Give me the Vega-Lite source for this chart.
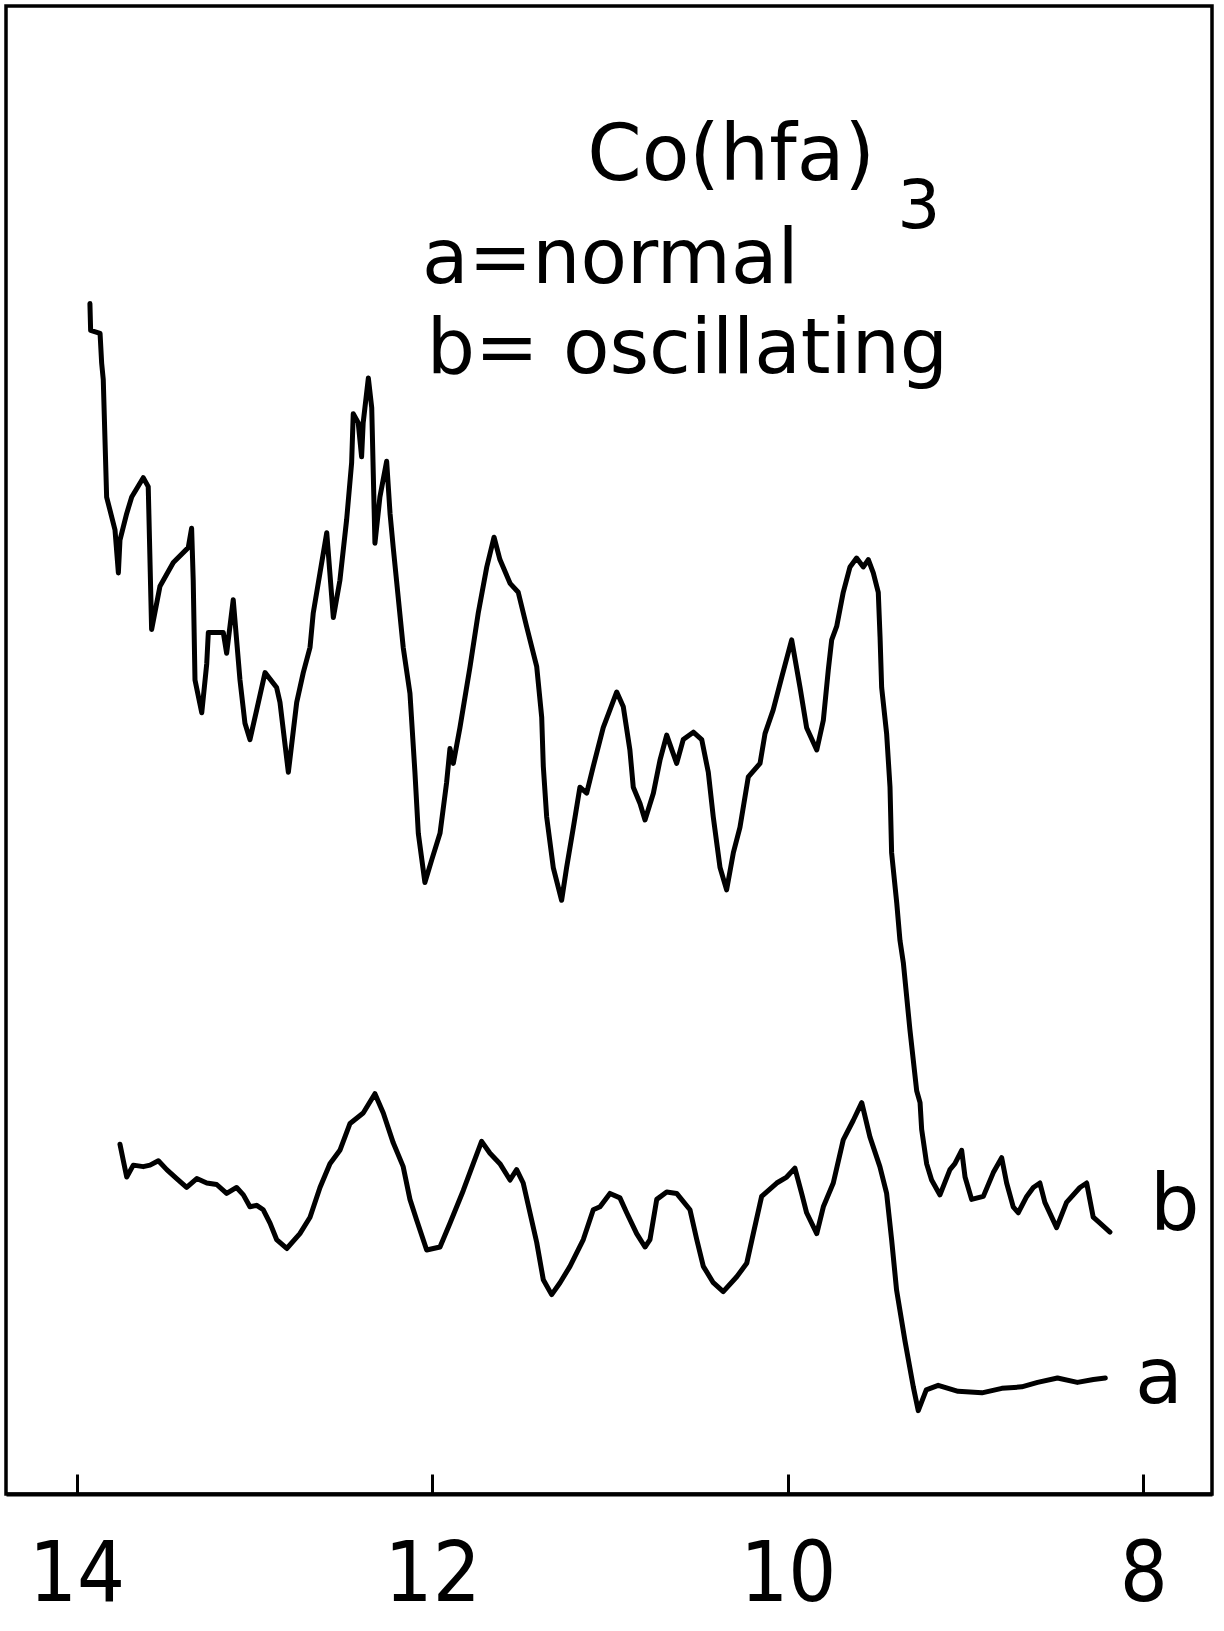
{
  "$schema": "https://vega.github.io/schema/vega-lite/v6.json",
  "width": 1206,
  "height": 1488,
  "padding": {"left": 6, "top": 6, "right": 6, "bottom": 6},
  "background": "white",
  "config": {
    "view": {"stroke": "black", "strokeWidth": 3.5},
    "font": "DejaVu Sans"
  },
  "datasets": {
    "traces": [
      {"trace": "b", "x": 13.925, "y": 80.0},
      {"trace": "b", "x": 13.921, "y": 78.2},
      {"trace": "b", "x": 13.868, "y": 78.0},
      {"trace": "b", "x": 13.859, "y": 76.0},
      {"trace": "b", "x": 13.850, "y": 74.9},
      {"trace": "b", "x": 13.831, "y": 67.0},
      {"trace": "b", "x": 13.784, "y": 64.8},
      {"trace": "b", "x": 13.765, "y": 61.9},
      {"trace": "b", "x": 13.756, "y": 64.1},
      {"trace": "b", "x": 13.718, "y": 65.9},
      {"trace": "b", "x": 13.690, "y": 67.0},
      {"trace": "b", "x": 13.625, "y": 68.3},
      {"trace": "b", "x": 13.597, "y": 67.7},
      {"trace": "b", "x": 13.578, "y": 58.1},
      {"trace": "b", "x": 13.531, "y": 61.0},
      {"trace": "b", "x": 13.456, "y": 62.6},
      {"trace": "b", "x": 13.372, "y": 63.6},
      {"trace": "b", "x": 13.353, "y": 64.9},
      {"trace": "b", "x": 13.344, "y": 61.4},
      {"trace": "b", "x": 13.334, "y": 54.7},
      {"trace": "b", "x": 13.296, "y": 52.5},
      {"trace": "b", "x": 13.268, "y": 55.8},
      {"trace": "b", "x": 13.259, "y": 57.9},
      {"trace": "b", "x": 13.175, "y": 57.9},
      {"trace": "b", "x": 13.156, "y": 56.5},
      {"trace": "b", "x": 13.119, "y": 60.1},
      {"trace": "b", "x": 13.081, "y": 54.7},
      {"trace": "b", "x": 13.053, "y": 51.8},
      {"trace": "b", "x": 13.025, "y": 50.7},
      {"trace": "b", "x": 12.987, "y": 52.7},
      {"trace": "b", "x": 12.940, "y": 55.2},
      {"trace": "b", "x": 12.875, "y": 54.2},
      {"trace": "b", "x": 12.856, "y": 53.2},
      {"trace": "b", "x": 12.809, "y": 48.5},
      {"trace": "b", "x": 12.762, "y": 53.2},
      {"trace": "b", "x": 12.725, "y": 55.2},
      {"trace": "b", "x": 12.687, "y": 56.9},
      {"trace": "b", "x": 12.669, "y": 59.2},
      {"trace": "b", "x": 12.631, "y": 61.9},
      {"trace": "b", "x": 12.593, "y": 64.6},
      {"trace": "b", "x": 12.556, "y": 58.9},
      {"trace": "b", "x": 12.519, "y": 61.4},
      {"trace": "b", "x": 12.481, "y": 65.5},
      {"trace": "b", "x": 12.453, "y": 69.3},
      {"trace": "b", "x": 12.444, "y": 72.6},
      {"trace": "b", "x": 12.416, "y": 72.0},
      {"trace": "b", "x": 12.397, "y": 69.7},
      {"trace": "b", "x": 12.388, "y": 72.0},
      {"trace": "b", "x": 12.359, "y": 75.0},
      {"trace": "b", "x": 12.340, "y": 73.0},
      {"trace": "b", "x": 12.322, "y": 63.9},
      {"trace": "b", "x": 12.294, "y": 67.0},
      {"trace": "b", "x": 12.256, "y": 69.4},
      {"trace": "b", "x": 12.237, "y": 65.9},
      {"trace": "b", "x": 12.219, "y": 63.6},
      {"trace": "b", "x": 12.163, "y": 56.9},
      {"trace": "b", "x": 12.125, "y": 53.8},
      {"trace": "b", "x": 12.097, "y": 48.5},
      {"trace": "b", "x": 12.078, "y": 44.4},
      {"trace": "b", "x": 12.041, "y": 41.1},
      {"trace": "b", "x": 12.003, "y": 42.6},
      {"trace": "b", "x": 11.956, "y": 44.4},
      {"trace": "b", "x": 11.919, "y": 47.8},
      {"trace": "b", "x": 11.900, "y": 50.1},
      {"trace": "b", "x": 11.881, "y": 49.1},
      {"trace": "b", "x": 11.844, "y": 51.5},
      {"trace": "b", "x": 11.787, "y": 55.6},
      {"trace": "b", "x": 11.741, "y": 59.2},
      {"trace": "b", "x": 11.693, "y": 62.3},
      {"trace": "b", "x": 11.652, "y": 64.3},
      {"trace": "b", "x": 11.619, "y": 62.8},
      {"trace": "b", "x": 11.562, "y": 61.2},
      {"trace": "b", "x": 11.516, "y": 60.6},
      {"trace": "b", "x": 11.469, "y": 58.3},
      {"trace": "b", "x": 11.412, "y": 55.6},
      {"trace": "b", "x": 11.384, "y": 52.2},
      {"trace": "b", "x": 11.375, "y": 48.9},
      {"trace": "b", "x": 11.356, "y": 45.5},
      {"trace": "b", "x": 11.319, "y": 42.1},
      {"trace": "b", "x": 11.272, "y": 39.9},
      {"trace": "b", "x": 11.244, "y": 42.1},
      {"trace": "b", "x": 11.206, "y": 44.8},
      {"trace": "b", "x": 11.169, "y": 47.5},
      {"trace": "b", "x": 11.131, "y": 47.1},
      {"trace": "b", "x": 11.094, "y": 48.9},
      {"trace": "b", "x": 11.038, "y": 51.5},
      {"trace": "b", "x": 10.962, "y": 53.9},
      {"trace": "b", "x": 10.925, "y": 52.9},
      {"trace": "b", "x": 10.888, "y": 50.0},
      {"trace": "b", "x": 10.869, "y": 47.5},
      {"trace": "b", "x": 10.831, "y": 46.4},
      {"trace": "b", "x": 10.803, "y": 45.3},
      {"trace": "b", "x": 10.756, "y": 47.1},
      {"trace": "b", "x": 10.719, "y": 49.3},
      {"trace": "b", "x": 10.681, "y": 51.0},
      {"trace": "b", "x": 10.625, "y": 49.1},
      {"trace": "b", "x": 10.588, "y": 50.7},
      {"trace": "b", "x": 10.531, "y": 51.2},
      {"trace": "b", "x": 10.484, "y": 50.7},
      {"trace": "b", "x": 10.447, "y": 48.5},
      {"trace": "b", "x": 10.419, "y": 45.5},
      {"trace": "b", "x": 10.381, "y": 42.1},
      {"trace": "b", "x": 10.344, "y": 40.6},
      {"trace": "b", "x": 10.306, "y": 43.1},
      {"trace": "b", "x": 10.269, "y": 44.8},
      {"trace": "b", "x": 10.222, "y": 48.2},
      {"trace": "b", "x": 10.156, "y": 49.1},
      {"trace": "b", "x": 10.128, "y": 51.1},
      {"trace": "b", "x": 10.082, "y": 52.7},
      {"trace": "b", "x": 10.034, "y": 54.9},
      {"trace": "b", "x": 9.978, "y": 57.4},
      {"trace": "b", "x": 9.931, "y": 54.2},
      {"trace": "b", "x": 9.894, "y": 51.5},
      {"trace": "b", "x": 9.837, "y": 50.0},
      {"trace": "b", "x": 9.800, "y": 52.0},
      {"trace": "b", "x": 9.772, "y": 55.4},
      {"trace": "b", "x": 9.753, "y": 57.4},
      {"trace": "b", "x": 9.725, "y": 58.3},
      {"trace": "b", "x": 9.688, "y": 60.6},
      {"trace": "b", "x": 9.650, "y": 62.3},
      {"trace": "b", "x": 9.613, "y": 62.9},
      {"trace": "b", "x": 9.575, "y": 62.3},
      {"trace": "b", "x": 9.547, "y": 62.8},
      {"trace": "b", "x": 9.519, "y": 61.9},
      {"trace": "b", "x": 9.491, "y": 60.6},
      {"trace": "b", "x": 9.481, "y": 57.6},
      {"trace": "b", "x": 9.472, "y": 54.2},
      {"trace": "b", "x": 9.444, "y": 51.1},
      {"trace": "b", "x": 9.425, "y": 47.5},
      {"trace": "b", "x": 9.416, "y": 43.1},
      {"trace": "b", "x": 9.387, "y": 39.7},
      {"trace": "b", "x": 9.369, "y": 37.2},
      {"trace": "b", "x": 9.350, "y": 35.7},
      {"trace": "b", "x": 9.313, "y": 31.2},
      {"trace": "b", "x": 9.275, "y": 27.1},
      {"trace": "b", "x": 9.256, "y": 26.3},
      {"trace": "b", "x": 9.247, "y": 24.5},
      {"trace": "b", "x": 9.219, "y": 22.2},
      {"trace": "b", "x": 9.191, "y": 21.1},
      {"trace": "b", "x": 9.144, "y": 20.1},
      {"trace": "b", "x": 9.088, "y": 21.8},
      {"trace": "b", "x": 9.060, "y": 22.2},
      {"trace": "b", "x": 9.022, "y": 23.1},
      {"trace": "b", "x": 9.003, "y": 21.3},
      {"trace": "b", "x": 8.966, "y": 19.8},
      {"trace": "b", "x": 8.900, "y": 20.0},
      {"trace": "b", "x": 8.844, "y": 21.6},
      {"trace": "b", "x": 8.797, "y": 22.6},
      {"trace": "b", "x": 8.769, "y": 20.9},
      {"trace": "b", "x": 8.732, "y": 19.3},
      {"trace": "b", "x": 8.704, "y": 18.9},
      {"trace": "b", "x": 8.656, "y": 20.0},
      {"trace": "b", "x": 8.619, "y": 20.6},
      {"trace": "b", "x": 8.582, "y": 20.9},
      {"trace": "b", "x": 8.554, "y": 19.6},
      {"trace": "b", "x": 8.488, "y": 17.9},
      {"trace": "b", "x": 8.432, "y": 19.6},
      {"trace": "b", "x": 8.357, "y": 20.6},
      {"trace": "b", "x": 8.319, "y": 20.9},
      {"trace": "b", "x": 8.282, "y": 18.6},
      {"trace": "b", "x": 8.244, "y": 18.2},
      {"trace": "b", "x": 8.188, "y": 17.6},
      {"trace": "a", "x": 13.756, "y": 23.5},
      {"trace": "a", "x": 13.737, "y": 22.4},
      {"trace": "a", "x": 13.718, "y": 21.3},
      {"trace": "a", "x": 13.681, "y": 22.1},
      {"trace": "a", "x": 13.625, "y": 22.0},
      {"trace": "a", "x": 13.587, "y": 22.1},
      {"trace": "a", "x": 13.540, "y": 22.4},
      {"trace": "a", "x": 13.493, "y": 21.8},
      {"trace": "a", "x": 13.437, "y": 21.2},
      {"trace": "a", "x": 13.381, "y": 20.6},
      {"trace": "a", "x": 13.324, "y": 21.2},
      {"trace": "a", "x": 13.268, "y": 20.9},
      {"trace": "a", "x": 13.212, "y": 20.8},
      {"trace": "a", "x": 13.156, "y": 20.2},
      {"trace": "a", "x": 13.100, "y": 20.6},
      {"trace": "a", "x": 13.062, "y": 20.1},
      {"trace": "a", "x": 13.025, "y": 19.3},
      {"trace": "a", "x": 12.987, "y": 19.4},
      {"trace": "a", "x": 12.950, "y": 19.1},
      {"trace": "a", "x": 12.912, "y": 18.2},
      {"trace": "a", "x": 12.875, "y": 17.1},
      {"trace": "a", "x": 12.818, "y": 16.5},
      {"trace": "a", "x": 12.744, "y": 17.5},
      {"trace": "a", "x": 12.687, "y": 18.6},
      {"trace": "a", "x": 12.631, "y": 20.6},
      {"trace": "a", "x": 12.575, "y": 22.2},
      {"trace": "a", "x": 12.519, "y": 23.1},
      {"trace": "a", "x": 12.462, "y": 24.9},
      {"trace": "a", "x": 12.388, "y": 25.6},
      {"trace": "a", "x": 12.322, "y": 26.9},
      {"trace": "a", "x": 12.275, "y": 25.6},
      {"trace": "a", "x": 12.219, "y": 23.6},
      {"trace": "a", "x": 12.163, "y": 22.0},
      {"trace": "a", "x": 12.125, "y": 19.8},
      {"trace": "a", "x": 12.087, "y": 18.4},
      {"trace": "a", "x": 12.031, "y": 16.4},
      {"trace": "a", "x": 11.956, "y": 16.6},
      {"trace": "a", "x": 11.900, "y": 18.2},
      {"trace": "a", "x": 11.825, "y": 20.4},
      {"trace": "a", "x": 11.769, "y": 22.2},
      {"trace": "a", "x": 11.722, "y": 23.7},
      {"trace": "a", "x": 11.675, "y": 22.9},
      {"trace": "a", "x": 11.619, "y": 22.2},
      {"trace": "a", "x": 11.562, "y": 21.1},
      {"trace": "a", "x": 11.525, "y": 21.8},
      {"trace": "a", "x": 11.488, "y": 20.9},
      {"trace": "a", "x": 11.450, "y": 18.9},
      {"trace": "a", "x": 11.412, "y": 16.9},
      {"trace": "a", "x": 11.375, "y": 14.4},
      {"trace": "a", "x": 11.328, "y": 13.4},
      {"trace": "a", "x": 11.281, "y": 14.2},
      {"trace": "a", "x": 11.225, "y": 15.3},
      {"trace": "a", "x": 11.150, "y": 17.1},
      {"trace": "a", "x": 11.094, "y": 19.1},
      {"trace": "a", "x": 11.056, "y": 19.3},
      {"trace": "a", "x": 11.000, "y": 20.2},
      {"trace": "a", "x": 10.944, "y": 19.9},
      {"trace": "a", "x": 10.906, "y": 18.9},
      {"trace": "a", "x": 10.850, "y": 17.5},
      {"trace": "a", "x": 10.803, "y": 16.6},
      {"trace": "a", "x": 10.775, "y": 17.1},
      {"trace": "a", "x": 10.737, "y": 19.8},
      {"trace": "a", "x": 10.681, "y": 20.3},
      {"trace": "a", "x": 10.625, "y": 20.2},
      {"trace": "a", "x": 10.550, "y": 19.1},
      {"trace": "a", "x": 10.512, "y": 17.1},
      {"trace": "a", "x": 10.475, "y": 15.3},
      {"trace": "a", "x": 10.419, "y": 14.2},
      {"trace": "a", "x": 10.363, "y": 13.6},
      {"trace": "a", "x": 10.287, "y": 14.6},
      {"trace": "a", "x": 10.231, "y": 15.5},
      {"trace": "a", "x": 10.194, "y": 17.5},
      {"trace": "a", "x": 10.147, "y": 20.0},
      {"trace": "a", "x": 10.062, "y": 20.9},
      {"trace": "a", "x": 10.006, "y": 21.3},
      {"trace": "a", "x": 9.960, "y": 21.9},
      {"trace": "a", "x": 9.922, "y": 20.2},
      {"trace": "a", "x": 9.894, "y": 18.9},
      {"trace": "a", "x": 9.837, "y": 17.5},
      {"trace": "a", "x": 9.800, "y": 19.3},
      {"trace": "a", "x": 9.744, "y": 20.9},
      {"trace": "a", "x": 9.688, "y": 23.8},
      {"trace": "a", "x": 9.632, "y": 25.1},
      {"trace": "a", "x": 9.584, "y": 26.3},
      {"trace": "a", "x": 9.538, "y": 24.0},
      {"trace": "a", "x": 9.482, "y": 22.0},
      {"trace": "a", "x": 9.444, "y": 20.2},
      {"trace": "a", "x": 9.416, "y": 17.1},
      {"trace": "a", "x": 9.388, "y": 13.7},
      {"trace": "a", "x": 9.341, "y": 10.3},
      {"trace": "a", "x": 9.294, "y": 7.2},
      {"trace": "a", "x": 9.266, "y": 5.6},
      {"trace": "a", "x": 9.221, "y": 7.0},
      {"trace": "a", "x": 9.154, "y": 7.3},
      {"trace": "a", "x": 9.042, "y": 6.9},
      {"trace": "a", "x": 8.908, "y": 6.8},
      {"trace": "a", "x": 8.796, "y": 7.1},
      {"trace": "a", "x": 8.684, "y": 7.2},
      {"trace": "a", "x": 8.595, "y": 7.5},
      {"trace": "a", "x": 8.483, "y": 7.8},
      {"trace": "a", "x": 8.371, "y": 7.5},
      {"trace": "a", "x": 8.281, "y": 7.7},
      {"trace": "a", "x": 8.214, "y": 7.8}
    ]
  },
  "layer": [
    {
      "data": {"name": "traces"},
      "mark": {"type": "line", "color": "black", "strokeWidth": 5, "strokeJoin": "round", "strokeCap": "round"},
      "encoding": {
        "x": {
          "field": "x", "type": "quantitative",
          "scale": {"domain": [7.614, 14.397], "reverse": true, "nice": false, "zero": false},
          "axis": {
            "values": [14, 12, 10, 8], "format": "d", "title": null, "grid": false,
            "domainColor": "black", "domainWidth": 4,
            "tickColor": "black", "tickWidth": 3, "tickSize": -20,
            "labelFont": "DejaVu Sans Condensed",
            "labelFontSize": 84, "labelColor": "black", "labelPadding": 60,
            "labelFlush": false, "labelOverlap": false
          }
        },
        "y": {
          "field": "y", "type": "quantitative",
          "scale": {"domain": [0, 100], "nice": false, "zero": false},
          "axis": null
        },
        "detail": {"field": "trace", "type": "nominal"}
      }
    },
    {
      "data": {"values": [{}]},
      "mark": {"type": "text", "font": "DejaVu Sans", "fontSize": 78, "align": "center", "baseline": "alphabetic", "color": "black"},
      "encoding": {"x": {"datum": 10.319}, "y": {"datum": 88.31}, "text": {"value": "Co(hfa)"}}
    },
    {
      "data": {"values": [{}]},
      "mark": {"type": "text", "font": "DejaVu Sans", "fontSize": 68, "align": "center", "baseline": "alphabetic", "color": "black"},
      "encoding": {"x": {"datum": 9.262}, "y": {"datum": 85.1}, "text": {"value": "3"}}
    },
    {
      "data": {"values": [{}]},
      "mark": {"type": "text", "font": "DejaVu Sans", "fontSize": 76, "align": "left", "baseline": "alphabetic", "color": "black"},
      "encoding": {"x": {"datum": 12.057}, "y": {"datum": 81.38}, "text": {"value": "a=normal"}}
    },
    {
      "data": {"values": [{}]},
      "mark": {"type": "text", "font": "DejaVu Sans", "fontSize": 76, "align": "left", "baseline": "alphabetic", "color": "black"},
      "encoding": {"x": {"datum": 12.03}, "y": {"datum": 75.34}, "text": {"value": "b= oscillating"}}
    },
    {
      "data": {"values": [{}]},
      "mark": {"type": "text", "font": "DejaVu Sans", "fontSize": 78, "align": "left", "baseline": "alphabetic", "color": "black"},
      "encoding": {"x": {"datum": 7.963}, "y": {"datum": 17.74}, "text": {"value": "b"}}
    },
    {
      "data": {"values": [{}]},
      "mark": {"type": "text", "font": "DejaVu Sans", "fontSize": 78, "align": "left", "baseline": "alphabetic", "color": "black"},
      "encoding": {"x": {"datum": 8.047}, "y": {"datum": 6.12}, "text": {"value": "a"}}
    }
  ]
}
